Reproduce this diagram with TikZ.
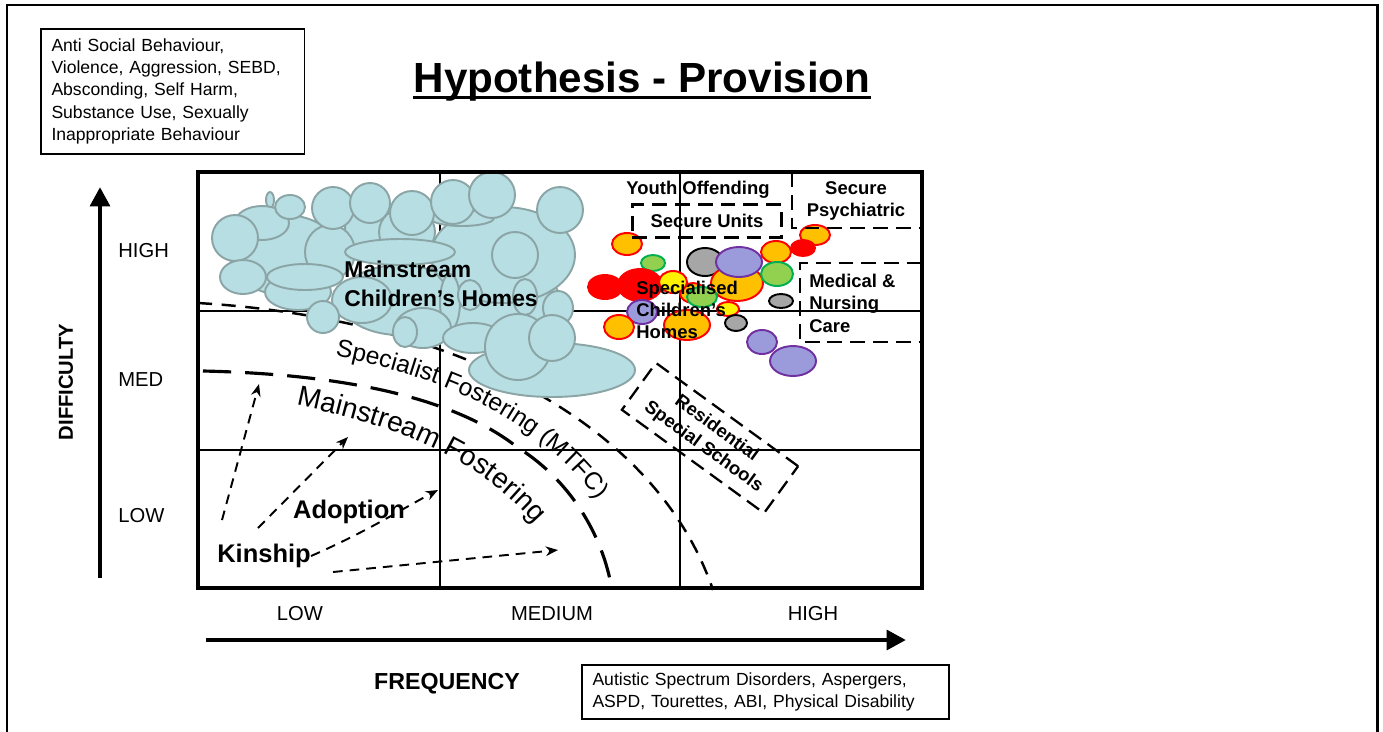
\documentclass[tikz,border=0pt]{standalone}
\usepackage{fontspec}
\setmainfont{Liberation Sans}
\usetikzlibrary{arrows.meta,positioning,decorations.text}

\definecolor{cloudfill}{HTML}{B7DEE2}
\definecolor{cloudline}{HTML}{8BA5A6}
\definecolor{amber}{HTML}{FFC000}
\definecolor{leaf}{HTML}{92D050}
\definecolor{leafline}{HTML}{00B050}
\definecolor{lilac}{HTML}{9B9BDC}
\definecolor{lilacline}{HTML}{7030A0}
\definecolor{slate}{HTML}{A6A6A6}

\begin{document}
\begin{tikzpicture}[x=0.02cm, y=-0.02cm,
    infobox/.style={draw, line width=1.1pt, align=left, inner xsep=6pt, inner ysep=0pt, anchor=north west, font=\fontsize{10pt}{12.6pt}\selectfont},
    plotframe/.style={line width=2pt},
    gridline/.style={line width=0.85pt},
    axisarrow/.style={line width=2.8pt, -{Triangle[length=11pt,width=11pt]}},
    ticklabel/.style={inner sep=0pt, font=\fontsize{11.5pt}{14pt}\selectfont},
    axistitle/.style={inner sep=0pt, font=\bfseries\fontsize{12.5pt}{15pt}\selectfont},
    zonelabel/.style={inner sep=0pt, align=center, font=\bfseries\fontsize{10.5pt}{12.6pt}\selectfont},
    zoneline/.style={line width=1.4pt, dash pattern=on 8.5pt off 4.5pt},
    blob/.style={fill=cloudfill, draw=cloudline, line width=1.1pt},
    amberdot/.style={fill=amber, draw=red, line width=1.1pt},
    yellowdot/.style={fill=yellow, draw=red, line width=1.1pt},
    reddot/.style={fill=red, draw=red, line width=1.1pt},
    leafdot/.style={fill=leaf, draw=leafline, line width=1.1pt},
    slatedot/.style={fill=slate, draw=black, line width=1.1pt},
    lilacdot/.style={fill=lilac, draw=lilacline, line width=1.1pt},
    specialistline/.style={line width=1.4pt, dash pattern=on 8pt off 5.5pt},
    mainstreamline/.style={line width=1.8pt, dash pattern=on 16pt off 8pt},
    route/.style={line width=1.1pt, dash pattern=on 5.5pt off 4pt, -{Stealth[length=7pt,width=5.5pt]}},
    placement/.style={inner sep=0pt, font=\bfseries\fontsize{14.5pt}{17pt}\selectfont}
    ]
    \useasboundingbox (0,0) rectangle (1383,731);

    % frame and heading
    \draw[line width=1.7pt] (7,740) -- (7,5) -- (1377,5) -- (1377,740);
    \node[infobox, text width=138pt, minimum height=71pt] (behaviour) at (40,28)
        {Anti Social Behaviour,\\Violence, Aggression, SEBD,\\Absconding, Self Harm,\\Substance Use, Sexually\\Inappropriate Behaviour};
    \node[anchor=base, inner sep=0pt, font=\bfseries\fontsize{24pt}{28pt}\selectfont] (title) at (642,92) {Hypothesis - Provision};
    \draw[line width=1.7pt] ([yshift=-3.3pt]title.base west) -- ([yshift=-3.3pt]title.base east);

    % grid
    \draw[gridline] (440,172) -- (440,588);
    \draw[gridline] (680,172) -- (680,588);
    \draw[gridline] (198,311) -- (922,311);
    \draw[gridline] (198,450) -- (922,450);

    % fostering bands
    \draw[specialistline] (198,303) .. controls (450,318) and (655,420) .. (713,590);
    \draw[mainstreamline] (203,371) .. controls (380,375) and (470,410) .. (517,447)
        .. controls (570,480) and (603,535) .. (612,590);

    % mainstream children's homes cloud
    \foreach \cx/\cy/\rx/\ry in {285/255/55/40, 480/300/80/40, 400/300/60/35, 503/255/72/48,
        370/228/25/22, 407/232/28/25, 270/200/4/8, 262/223/27/17, 290/207/15/12, 330/252/25/27,
        235/238/23/23, 243/277/23/17, 298/292/33/18, 462/218/32/8, 333/208/21/21, 370/203/20/20,
        412/213/22/22, 453/202/22/22, 492/195/23/23, 560/210/23/23, 515/255/23/23, 400/252/55/13,
        305/277/38/13, 362/300/30/23, 450/302/10/28, 470/295/12/15, 525/297/12/18, 558/308/15/17,
        323/317/16/16, 423/328/28/20, 405/332/12/15, 473/338/30/15, 552/370/83/27, 518/347/33/33,
        552/338/23/23}
        \draw[blob] (\cx,\cy) ellipse [x radius=\rx, y radius=\ry];

    % specialised children's homes
    \foreach \s/\cx/\cy/\rx/\ry in {amberdot/627/244/15/11, leafdot/653/263/12/8, reddot/605/287/17/12,
        reddot/640/285/22/16, amberdot/693/293/13/10, yellowdot/673/282/14/11, slatedot/705/262/18/14,
        amberdot/737/283/26/18, lilacdot/739/262/23/15, leafdot/702/297/15/10, yellowdot/728/309/11/7,
        amberdot/815/235/15/10, reddot/803/248/12/8, amberdot/776/252/15/11, leafdot/777/274/16/12,
        slatedot/781/301/12/7, amberdot/687/325/23/15, lilacdot/642/312/15/12, amberdot/619/327/15/12,
        slatedot/736/323/11/8, lilacdot/762/342/15/12, lilacdot/793/361/23/15}
        \draw[\s] (\cx,\cy) ellipse [x radius=\rx, y radius=\ry];

    % secure and medical zones
    \node[zonelabel] (yot) at (698,190) {Youth Offending};
    \node[zonelabel, draw, zoneline, minimum width=85pt, minimum height=18.7pt] (units) at (707,221) {Secure Units};
    \draw[zoneline] (792,172) -- (792,228) -- (922,228);
    \node[zonelabel] (psych) at (856,201) {Secure\\Psychiatric};
    \draw[zoneline] (922,263) -- (800,263) -- (800,342) -- (922,342);
    \node[zonelabel, anchor=west, align=left, font=\bfseries\fontsize{10.5pt}{12.8pt}\selectfont] (medical) at (809,303) {Medical \&\\Nursing\\Care};
    \node[zonelabel, draw, zoneline, line width=1.3pt, rotate=-36, minimum width=100pt, minimum height=33pt] (residential) at (710,438)
        {Residential\\Special Schools};

    \draw[plotframe] (198,172) rectangle (922,588);

    % labels on the chart
    \node[placement, anchor=west, align=left, font=\bfseries\fontsize{13pt}{16.4pt}\selectfont] (mainhomes) at (344,284) {Mainstream\\Children’s Homes};
    \node[placement, anchor=west, align=left, font=\bfseries\fontsize{10.5pt}{12.5pt}\selectfont] (spechomes) at (636,310) {Specialised\\Children’s\\Homes};
    \path[decorate, decoration={text along path, text align=left,
        text={|\fontsize{14pt}{14pt}\selectfont|Specialist Fostering (MTFC)}}]
        (335,356) .. controls (440,378) and (540,415) .. (606,512);
    \path[decorate, decoration={text along path, text align=left,
        text={|\fontsize{16pt}{16pt}\selectfont|Mainstream Fostering}}]
        (296,405) .. controls (390,425) and (480,455) .. (542,532);

    % kinship and adoption routes
    \node[placement] (kinship) at (264,556) {Kinship};
    \node[placement] (adoption) at (349,512) {Adoption};
    \coordinate (kinup) at (222,520);
    \coordinate (kinupend) at (259,384);
    \coordinate (adoptup) at (258,528);
    \coordinate (adoptupend) at (348,437);
    \coordinate (kinmid) at (438,490);
    \coordinate (kinlow) at (333,572);
    \coordinate (kinlowend) at (558,550);
    \draw[route] (kinup) -- (kinupend);
    \draw[route] (adoptup) -- (adoptupend);
    \draw[route] (kinship.east) .. controls (370,530) and (400,510) .. (kinmid);
    \draw[route] (kinlow) -- (kinlowend);

    % axes
    \coordinate (ybottom) at (100,578);
    \coordinate (ytop) at (100,187);
    \coordinate (xleft) at (206,640);
    \coordinate (xright) at (906,640);
    \draw[axisarrow] (ybottom) -- (ytop);
    \draw[axisarrow] (xleft) -- (xright);
    \node[ticklabel, anchor=west] (yhigh) at (118,251) {HIGH};
    \node[ticklabel, anchor=west] (ymed) at (118,380) {MED};
    \node[ticklabel, anchor=west] (ylow) at (118,516) {LOW};
    \node[ticklabel] (xlow) at (300,614) {LOW};
    \node[ticklabel] (xmed) at (552,614) {MEDIUM};
    \node[ticklabel] (xhigh) at (813,614) {HIGH};
    \node[axistitle, rotate=90, font=\bfseries\fontsize{11.5pt}{14pt}\selectfont] (difficulty) at (66,382) {DIFFICULTY};
    \node[axistitle, font=\bfseries\fontsize{13.2pt}{15pt}\selectfont] (frequency) at (447,684) {FREQUENCY};

    \node[infobox, text width=197pt, minimum height=30.6pt] (disorders) at (581,664)
        {Autistic Spectrum Disorders, Aspergers,\\ASPD, Tourettes, ABI, Physical Disability};

\end{tikzpicture}
\end{document}
